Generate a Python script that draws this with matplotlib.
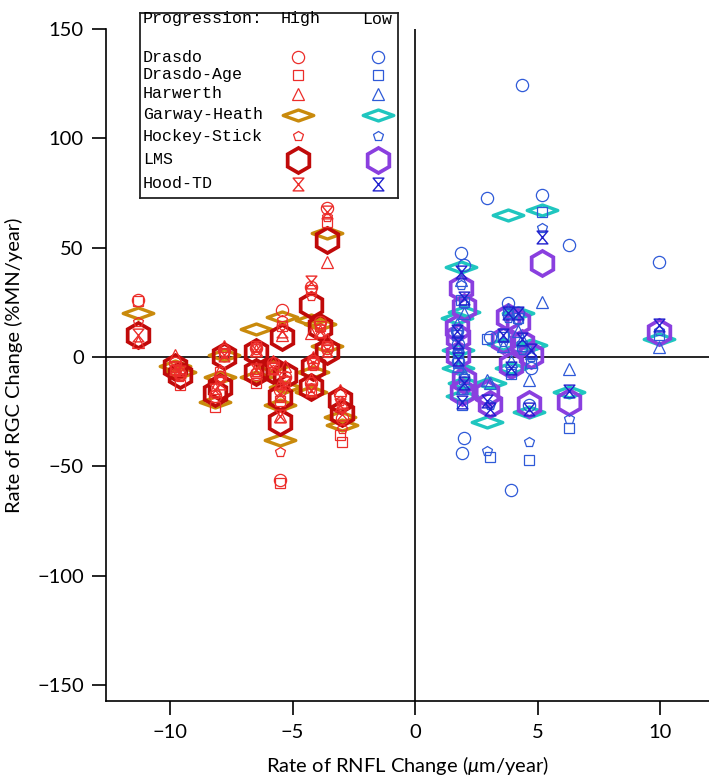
import numpy as np
import matplotlib
matplotlib.use("Agg")
import matplotlib.pyplot as plt
from matplotlib.path import Path

# ---------------- data ----------------
# High progression eyes (x = rate of RNFL change, y = rate of RGC change per model)
high_x        = [-11.3, -9.8, -9.6, -7.8, -7.95, -8.15, -6.5, -6.5, -5.45, -5.8, -5.3, -5.5, -5.5, -4.23, -3.89, -3.61, -4.18, -4.25, -3.61, -3.07, -3.0]
high_drasdo   = [26, -3, -8, 3, -9, -18, 4, -8, 21.4, -3, -9, -15, -56.4, 32, 16, 4, -2, -12, 67.9, -17, -28]
high_dr_age   = [25.5, -6, -13, 2, -7, -22.8, 5, -12, 14, -5, -11, -20, -57.8, 30.5, 14, 5, -3, -15, 61.7, -35.7, -38.8]
high_harwerth = [7, 1, -6, 5, -6, -14, 3, -5, 10, -2, -4, -12, -27, 10.8, 12, 8, 0, -10, 43.5, -15.2, -21]
high_garway   = [20, -4, -7, 1, -9, -20.5, 12.6, -9, 18.3, -4, -13.7, -22, -38, 16.8, 15, 5, -7, -16, 56.4, -27.4, -31.2]
high_hockey   = [16, -5, -9, 2, -10, -17, 4, -7, 17, -6, -10, -19, -43.4, 28, 13, 2, -4, -14, 64, -20, -33]
high_lms      = [10, -4.5, -8.3, 0.5, -13.7, -16.6, 2.3, -6.8, 9.2, -6, -8.3, -18.2, -29.7, 23.7, 13.8, 2.8, -4.5, -13.7, 53.4, -19.7, -25.5]
high_hood     = [10, -5, -7, 1, -12, -15, 3, -6, 12, -5, -12, -17, -27, 34.3, 12, 3, -3, -15, 66, -22, -26]

# Low progression eyes
low_x        = [5.2, 3.8, 2.92, 3.05, 4.35, 6.3, 9.95, 1.88, 2.0, 1.7, 1.75, 1.76, 1.98, 1.9, 4.2, 3.6, 4.75, 3.9, 4.66]
low_drasdo   = [74, 24.7, 72.4, 9.2, 124.2, 51, 43.2, 47.6, 42, 12, 6, -2, -37.2, -43.7, 20, 10, -5, -61, -22]
low_dr_age   = [66, 20, 8, -45.6, 5, -32.7, 10, 26, 25, 10, 2, -3, -10, -22, 18, 9, -3, -8, -47.2]
low_harwerth = [25, 22, -10.6, -12, 8, -5.7, 4.6, 35, 20, 15, 5, -4, -8, -14, 12, 5, 2, -2, -10.6]
low_garway   = [67, 64.8, -29.6, -12, 4, -16, 8, 41.2, 20.6, 18, 3, -5, -12, -18, 20, 6, 5.4, -5, -25]
low_hockey   = [59, 18, -43, -22, 3, -28.4, 12, 33, 24, 11, 4, 2, -9, -15, 17, 7, 0, -6, -38.8]
low_lms      = [43, 18.3, -16.7, -21.3, 6.2, -20.5, 11.5, 31.3, 22.9, 13, 9.2, 0.8, -10.6, -16, 16, 7.7, 0.8, -3.7, -21.3]
low_hood     = [55, 20, -20, -24, 8, -15.5, 14.5, 38.7, 27, 12, 7, -1, -12, -20.5, 20, 10, 3, -5, -24]

models = ["Drasdo", "Drasdo-Age", "Harwerth", "Garway-Heath", "Hockey-Stick", "LMS", "Hood-TD"]
x_ticks = [-10, -5, 0, 5, 10]
y_ticks = [-150, -100, -50, 0, 50, 100, 150]

# ---------------- styles ----------------
diamond = Path([(-1, 0), (0, 0.36), (1, 0), (0, -0.36), (-1, 0)],
               [Path.MOVETO, Path.LINETO, Path.LINETO, Path.LINETO, Path.CLOSEPOLY])
hourglass = Path([(-0.42, 0.5), (0.42, 0.5), (-0.42, -0.5), (0.42, -0.5), (-0.42, 0.5)],
                 [Path.MOVETO, Path.LINETO, Path.LINETO, Path.LINETO, Path.CLOSEPOLY])

RED = "#ec2d2a"
BLUE = "#2f5ad8"
style = {
    "Drasdo":       dict(marker="o", ms=8.8, mew=0.9, hc=RED, lc=BLUE),
    "Drasdo-Age":   dict(marker="s", ms=7.4, mew=0.9, hc=RED, lc=BLUE),
    "Harwerth":     dict(marker="^", ms=8.6, mew=0.9, hc=RED, lc=BLUE),
    "Garway-Heath": dict(marker=diamond, ms=22, mew=2.4, hc="#c98a0c", lc="#1fc6bf"),
    "Hockey-Stick": dict(marker="p", ms=7.4, mew=0.9, hc=RED, lc=BLUE),
    "LMS":          dict(marker="h", ms=18, mew=2.7, hc="#c00a0a", lc="#8a3fdf"),
    "Hood-TD":      dict(marker=hourglass, ms=9.2, mew=1.0, hc=RED, lc="#1f1fce"),
}

high = {"Drasdo": high_drasdo, "Drasdo-Age": high_dr_age, "Harwerth": high_harwerth,
        "Garway-Heath": high_garway, "Hockey-Stick": high_hockey, "LMS": high_lms, "Hood-TD": high_hood}
low = {"Drasdo": low_drasdo, "Drasdo-Age": low_dr_age, "Harwerth": low_harwerth,
       "Garway-Heath": low_garway, "Hockey-Stick": low_hockey, "LMS": low_lms, "Hood-TD": low_hood}

plt.rcParams["font.family"] = ["Lato", "DejaVu Sans"]
plt.rcParams["mathtext.fontset"] = "custom"
plt.rcParams["mathtext.rm"] = "Lato"
plt.rcParams["mathtext.it"] = "Lato:italic"

W, H = 709, 782
fig = plt.figure(figsize=(W / 100, H / 100), dpi=100)
ax = fig.add_axes([106 / W, 1 - 701.3 / H, 1 - 106 / W, (701.3 - 28.7) / H])

ax.axhline(0, color="black", lw=1.2, zorder=1)
ax.axvline(0, color="black", lw=1.2, zorder=1)

draw_order = ["Garway-Heath", "LMS", "Drasdo", "Drasdo-Age", "Harwerth", "Hockey-Stick", "Hood-TD"]
for m in draw_order:
    st = style[m]
    ax.plot(high_x, high[m], linestyle="none", marker=st["marker"], ms=st["ms"], mew=st["mew"],
            mfc="none", mec=st["hc"], zorder=3)
    ax.plot(low_x, low[m], linestyle="none", marker=st["marker"], ms=st["ms"], mew=st["mew"],
            mfc="none", mec=st["lc"], zorder=3)

ax.set_xlim(-12.62, 12.0)
ax.set_ylim(-157.4, 150)
ax.set_xticks(x_ticks)
ax.set_yticks(y_ticks)
ax.set_xticklabels(["\u2212" + str(abs(t)) if t < 0 else str(t) for t in x_ticks])
ax.set_yticklabels(["\u2212" + str(abs(t)) if t < 0 else str(t) for t in y_ticks])
for s in ["top", "right"]:
    ax.spines[s].set_visible(False)
for s in ["left", "bottom"]:
    ax.spines[s].set_linewidth(1.2)
ax.tick_params(direction="out", length=10, width=1.2, labelsize=14.5, pad=6)
ax.set_xlabel(r"Rate of RNFL Change ($\mu$m/year)", fontsize=14.5, labelpad=10)
ax.set_ylabel("Rate of RGC Change (%MN/year)", fontsize=14.5, labelpad=10)

# ---------------- legend box ----------------
lx0, lx1, ly0, ly1 = 140, 398, 13, 198
lg = fig.add_axes([lx0 / W, 1 - ly1 / H, (lx1 - lx0) / W, (ly1 - ly0) / H], zorder=5)
lg.set_xlim(lx0, lx1)
lg.set_ylim(ly1, ly0)
lg.set_xticks([])
lg.set_yticks([])
for s in lg.spines.values():
    s.set_linewidth(1.3)
    s.set_color("#222222")
mono = ["Liberation Mono", "DejaVu Sans Mono"]
fs = 12
lg.text(143, 19, "Progression:", family=mono, fontsize=fs, va="center", ha="left")
lg.text(301, 19, "High", family=mono, fontsize=fs, va="center", ha="center")
lg.text(377, 19, "Low", family=mono, fontsize=fs, va="center", ha="center")
rows_y = [57, 75, 94, 115, 136, 160, 184]
for m, yy in zip(models, rows_y):
    st = style[m]
    lg.text(143, yy, m, family=mono, fontsize=fs, va="center", ha="left")
    lg.plot([298], [yy], marker=st["marker"], ms=st["ms"], mew=st["mew"], mfc="none", mec=st["hc"], ls="none")
    lg.plot([378], [yy], marker=st["marker"], ms=st["ms"], mew=st["mew"], mfc="none", mec=st["lc"], ls="none")

fig.savefig("out.png", dpi=100)
